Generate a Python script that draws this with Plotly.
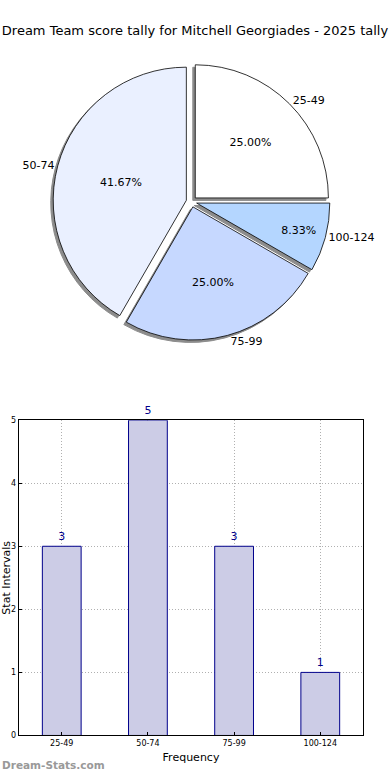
import plotly.graph_objects as go

categories = ["25-49", "50-74", "75-99", "100-124"]
counts = [3, 5, 3, 1]
pie_colors = ["#ffffff", "#eaf0ff", "#c6d8ff", "#b4d6ff"]
title_text = "Dream Team score tally for Mitchell Georgiades - 2025 tally"

W, H = 390, 780
FONT = "DejaVu Sans"

def px_x(a, b):
    return [a / W, b / W]

def px_y(top, bottom):
    return [1 - bottom / H, 1 - top / H]

cx, cy, half = 195, 200, 141
pull = [0.04] * len(categories)

fig = go.Figure()

# shadow
fig.add_trace(go.Pie(
    labels=categories, values=counts, sort=False, direction="counterclockwise",
    rotation=0, pull=pull, textinfo="none", hoverinfo="skip",
    marker=dict(colors=["#8c8c8c"] * 4, line=dict(color="#8c8c8c", width=1)),
    domain=dict(x=px_x(cx - half - 2.5, cx + half - 2.5), y=px_y(cy - half + 2.5, cy + half + 2.5)),
    showlegend=False,
))
# main pie with percentages
fig.add_trace(go.Pie(
    labels=categories, values=counts, sort=False, direction="counterclockwise",
    rotation=0, pull=pull, texttemplate="%{percent:.2%}", textposition="inside",
    insidetextorientation="horizontal",
    textfont=dict(family=FONT, size=11, color="black"),
    marker=dict(colors=pie_colors, line=dict(color="black", width=0.8)),
    domain=dict(x=px_x(cx - half, cx + half), y=px_y(cy - half, cy + half)),
    showlegend=False,
))
# outside labels
fig.add_trace(go.Pie(
    labels=categories, values=counts, sort=False, direction="counterclockwise",
    rotation=0, pull=pull, textinfo="label", textposition="outside",
    textfont=dict(family=FONT, size=11, color="black"),
    marker=dict(colors=["rgba(0,0,0,0)"] * 4, line=dict(width=0)),
    domain=dict(x=px_x(cx - half, cx + half), y=px_y(cy - half, cy + half)),
    hoverinfo="skip", showlegend=False,
))

fig.add_trace(go.Bar(
    x=categories, y=counts, width=0.45,
    marker=dict(color="#ccccE6", line=dict(color="#00008b", width=1)),
    text=[str(c) for c in counts], textposition="outside", cliponaxis=False,
    textfont=dict(family=FONT, size=11, color="#00008b"),
    xaxis="x", yaxis="y", showlegend=False,
))

grid_dash = "1px,2px"
fig.update_layout(
    width=W, height=H, margin=dict(l=0, r=0, t=0, b=0),
    paper_bgcolor="white", plot_bgcolor="white",
    font=dict(family=FONT, size=11, color="black"),
    title=dict(text=title_text, x=0.5, xanchor="center", y=1 - 30 / H, yanchor="middle",
               font=dict(family=FONT, size=13, color="black")),
    xaxis=dict(domain=px_x(19, 370), range=[-0.5, 3.5], type="category",
               showline=True, mirror=True, linecolor="black", linewidth=1,
               showgrid=True, gridcolor="#b0b0b0", griddash=grid_dash, gridwidth=1,
               ticks="inside", ticklen=3, tickcolor="black",
               tickfont=dict(size=8), title=dict(text="Frequency", font=dict(size=11), standoff=6),
               zeroline=False, anchor="y"),
    yaxis=dict(domain=px_y(421, 740), range=[0, 5], dtick=1,
               showline=True, mirror=True, linecolor="black", linewidth=1,
               showgrid=True, gridcolor="#b0b0b0", griddash=grid_dash, gridwidth=1,
               ticks="inside", ticklen=3, tickcolor="black",
               tickfont=dict(size=8), title=dict(text="Stat Intervals", font=dict(size=11), standoff=2),
               zeroline=False, anchor="x"),
    annotations=[dict(text="<b>Dream-Stats.com</b>", x=0, y=1 - 770 / H, xref="paper", yref="paper",
                      xanchor="left", yanchor="middle", showarrow=False,
                      font=dict(family=FONT, size=10.5, color="#999999"))],
)

fig.write_html("out.html", config={"displayModeBar": False},
               post_script="document.body.style.margin='0';")
